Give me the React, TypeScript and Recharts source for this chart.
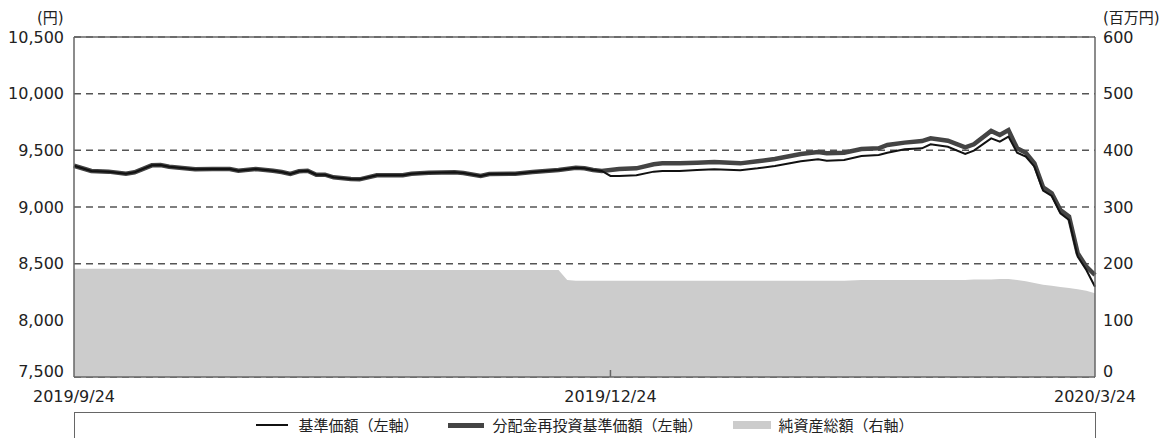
import React from "react";
import {
  ComposedChart,
  Area,
  Line,
  XAxis,
  YAxis,
  CartesianGrid,
  ReferenceLine,
} from "recharts";

const NUM_FONT = '"DejaVu Sans", "Noto Sans CJK JP", sans-serif';
const JP_FONT = '"Noto Sans CJK JP", sans-serif';
const TEXT = "#222";
const AXIS = "#666";

// business-day index since 2019/9/24
const DAYS = [
  0, 2, 4, 6, 7, 9, 10, 11, 14, 16, 18, 19, 21, 23, 24, 25, 26, 27, 28, 29, 30,
  32, 33, 35, 38, 39, 41, 44, 45, 47, 48, 51, 53, 56, 57, 58, 59, 60, 61, 62,
  63, 65, 67, 68, 70, 72, 74, 77, 79, 81, 84, 86, 87, 89, 91, 93, 94, 96, 98,
  99, 101, 103, 104, 106, 107, 108, 109, 110, 111, 112, 113, 114, 115, 116,
  117, 118,
];

const BASE_PRICE = [
  9364, 9318, 9312, 9294, 9306, 9368, 9370, 9356, 9333, 9335, 9335, 9320, 9335,
  9320, 9309, 9291, 9315, 9320, 9285, 9285, 9262, 9247, 9244, 9280, 9280, 9294,
  9303, 9306, 9300, 9274, 9291, 9294, 9309, 9326, null, 9347, 9341, 9326, 9318,
  9274, 9274, 9280, 9312, 9318, 9318, 9326, 9333, 9324, 9341, 9362, 9403, 9421,
  9409, 9415, 9450, 9459, 9479, 9509, 9518, 9553, 9532, 9468, 9497, 9606, 9577,
  9621, 9479, 9444, 9356, 9144, 9097, 8944, 8885, 8562, 8444, 8297,
];

const REINVEST_PRICE = [
  9364, 9318, 9312, 9294, 9306, 9368, 9370, 9356, 9333, 9335, 9335, 9320, 9335,
  9320, 9309, 9291, 9315, 9320, 9285, 9285, 9262, 9247, 9244, 9280, 9280, 9294,
  9303, 9306, 9300, 9274, 9291, 9294, 9309, 9326, null, 9347, 9341, 9326, 9318,
  9326, 9335, 9341, 9377, 9385, 9385, 9391, 9397, 9385, 9403, 9424, 9468, 9485,
  9474, 9479, 9512, 9518, 9547, 9568, 9582, 9606, 9585, 9526, 9553, 9671, 9635,
  9679, 9518, 9479, 9385, 9174, 9121, 8974, 8915, 8591, 8474, 8400,
];

// 百万円
const NET_ASSETS = [
  191, 191, 191, 191, 191, 191, 190, 190, 190, 190, 190, 190, 190, 190, 190,
  190, 190, 190, 190, 190, 190, 189, 189, 189, 189, 189, 189, 189, 189, 189,
  189, 189, 189, 189, 171, 170, 170, 170, 170, 170, 170, 170, 170, 170, 170,
  170, 170, 170, 170, 170, 170, 170, 170, 170, 171, 171, 171, 171, 171, 171,
  171, 171, 172, 172, 173, 173, 171, 169, 166, 163, 161, 159, 157, 155, 152,
  148,
];

const X_TICKS = [0, 62, 118];
const X_LABELS: Record<number, string> = {
  0: "2019/9/24",
  62: "2019/12/24",
  118: "2020/3/24",
};
const LEFT_TICKS = [7500, 8000, 8500, 9000, 9500, 10000, 10500];
const RIGHT_TICKS = [0, 100, 200, 300, 400, 500, 600];

const data = DAYS.map((d, i) => ({
  day: d,
  base: BASE_PRICE[i],
  reinvest: REINVEST_PRICE[i],
  net: NET_ASSETS[i],
}));

const XTick = ({ x, y, payload }: any) => (
  <g>
    {payload.value === 62 && (
      <line x1={x} x2={x} y1={y - 7} y2={y} stroke={AXIS} strokeWidth={1.5} />
    )}
    <text
      x={x}
      y={y + 19}
      textAnchor="middle"
      dominantBaseline="central"
      fill={TEXT}
      fontSize={16}
      fontFamily={NUM_FONT}
    >
      {X_LABELS[payload.value]}
    </text>
  </g>
);

const LeftTick = ({ x, y, payload }: any) => (
  <text
    x={x}
    y={payload.value === 7500 ? y - 6 : y}
    textAnchor="end"
    dominantBaseline="central"
    fill={TEXT}
    fontSize={16}
    fontFamily={NUM_FONT}
  >
    {payload.value.toLocaleString("en-US")}
  </text>
);

const RightTick = ({ x, y, payload }: any) => (
  <text
    x={x}
    y={payload.value === 0 ? y - 6 : y}
    textAnchor="start"
    dominantBaseline="central"
    fill={TEXT}
    fontSize={16}
    fontFamily={NUM_FONT}
  >
    {payload.value}
  </text>
);

export default function App() {
  return (
    <div
      style={{
        position: "relative",
        width: 1175,
        height: 438,
        overflow: "hidden",
        background: "#fff",
      }}
    >
      <style>{`body{margin:0}`}</style>

      <div
        style={{
          position: "absolute",
          left: 37,
          top: 6,
          fontSize: 15,
          fontFamily: NUM_FONT,
          color: TEXT,
        }}
      >
        (円)
      </div>
      <div
        style={{
          position: "absolute",
          left: 1103,
          top: 6,
          fontSize: 15,
          fontFamily: NUM_FONT,
          color: TEXT,
        }}
      >
        (百万円)
      </div>

      <ComposedChart
        width={1175}
        height={438}
        data={data}
        margin={{ top: 37, right: 0, bottom: 0, left: 0 }}
      >
        <CartesianGrid
          yAxisId="left"
          vertical={false}
          stroke="#555"
          strokeWidth={1.5}
          strokeDasharray="7 5"
        />
        <XAxis
          dataKey="day"
          type="number"
          domain={[0, 118]}
          ticks={X_TICKS}
          interval={0}
          height={61}
          tickLine={false}
          tickSize={0}
          tickMargin={0}
          axisLine={{ stroke: AXIS, strokeWidth: 1.5 }}
          tick={<XTick />}
        />
        <YAxis
          yAxisId="left"
          domain={[7500, 10500]}
          ticks={LEFT_TICKS}
          interval={0}
          width={74}
          tickLine={false}
          tickSize={0}
          tickMargin={10}
          axisLine={{ stroke: AXIS, strokeWidth: 1.5 }}
          tick={<LeftTick />}
        />
        <YAxis
          yAxisId="right"
          orientation="right"
          domain={[0, 600]}
          ticks={RIGHT_TICKS}
          interval={0}
          width={80}
          tickLine={false}
          tickSize={0}
          tickMargin={8}
          axisLine={{ stroke: AXIS, strokeWidth: 1.5 }}
          tick={<RightTick />}
        />
        <Area
          yAxisId="right"
          dataKey="net"
          type="linear"
          fill="#cccccc"
          fillOpacity={1}
          stroke="none"
          isAnimationActive={false}
        />
        <ReferenceLine
          yAxisId="left"
          y={10500}
          stroke={AXIS}
          strokeWidth={1.5}
        />
        <Line
          yAxisId="left"
          dataKey="reinvest"
          type="linear"
          stroke="#444"
          strokeWidth={4.5}
          dot={false}
          connectNulls
          isAnimationActive={false}
        />
        <Line
          yAxisId="left"
          dataKey="base"
          type="linear"
          stroke="#111"
          strokeWidth={2}
          dot={false}
          connectNulls
          isAnimationActive={false}
        />
      </ComposedChart>

      <div
        style={{
          position: "absolute",
          left: 74,
          top: 412,
          width: 1022,
          height: 40,
          boxSizing: "border-box",
          border: `1.5px solid ${AXIS}`,
          display: "flex",
          justifyContent: "center",
          alignItems: "flex-start",
          paddingTop: 3,
          gap: 30,
          fontFamily: JP_FONT,
          fontSize: 15,
          lineHeight: "18px",
          color: TEXT,
        }}
      >
        <div style={{ display: "flex", alignItems: "center", gap: 10 }}>
          <div style={{ width: 32, height: 2, background: "#111" }} />
          <span>基準価額（左軸）</span>
        </div>
        <div style={{ display: "flex", alignItems: "center", gap: 8 }}>
          <div style={{ width: 36, height: 5, background: "#444" }} />
          <span>分配金再投資基準価額（左軸）</span>
        </div>
        <div style={{ display: "flex", alignItems: "center", gap: 8 }}>
          <div style={{ width: 38, height: 8, background: "#cccccc" }} />
          <span>純資産総額（右軸）</span>
        </div>
      </div>
    </div>
  );
}
